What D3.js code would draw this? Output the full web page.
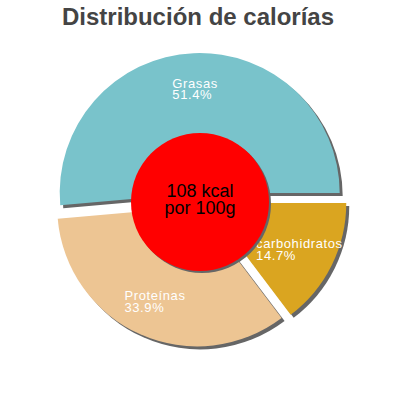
<!DOCTYPE html>
<html>
<head>
<meta charset="utf-8">
<script src="https://cdn.jsdelivr.net/npm/d3@7"></script>
<style>
  body { margin: 0; background: #fff; }
  text { font-family: "Liberation Sans", Arial, sans-serif; }
</style>
</head>
<body>
<div id="chart"></div>
<script>
// Data
const categories = ["carbohidratos", "Proteínas", "Grasas"];
const percents = [14.7, 33.9, 51.4];
const sliceColors = ["#daa520", "#edc593", "#79c3cb"];
const title = "Distribución de calorías";
const centerLines = ["108 kcal", "por 100g"];

const width = 400;
const height = 400;
const cx = 200, cy = 200;
const outerR = 140;
const explode = 7;
const labelR = 104;

const svg = d3.select("#chart").append("svg")
    .attr("width", width)
    .attr("height", height);

// Title
svg.append("text")
    .attr("x", 198)
    .attr("y", 25)
    .attr("text-anchor", "middle")
    .attr("font-size", 24)
    .attr("font-weight", "bold")
    .attr("fill", "#444")
    .text(title);

const slices = categories.map((c, i) => ({ name: c, value: percents[i], color: sliceColors[i] }));

const pie = d3.pie()
    .sort(null)
    .value(d => d.value)
    .startAngle(Math.PI / 2)
    .endAngle(Math.PI / 2 + 2 * Math.PI);

const arcs = pie(slices);
const arc = d3.arc().innerRadius(0).outerRadius(outerR);

const mid = d => (d.startAngle + d.endAngle) / 2;
const offset = (d, r) => [Math.sin(mid(d)) * r, -Math.cos(mid(d)) * r];

const g = svg.append("g")
    .attr("transform", `translate(${cx}, ${cy})`);

// Shadows first
g.append("g").selectAll("path")
    .data(arcs)
    .join("path")
    .attr("d", arc)
    .attr("fill", "#666")
    .attr("transform", d => {
        const [dx, dy] = offset(d, explode);
        return `translate(${dx + 3}, ${dy + 3})`;
    });

// Slices
g.append("g").selectAll("path")
    .data(arcs)
    .join("path")
    .attr("d", arc)
    .attr("fill", d => d.data.color)
    .attr("transform", d => {
        const [dx, dy] = offset(d, explode);
        return `translate(${dx}, ${dy})`;
    });

// Labels: two left-aligned lines centred on a point along the mid angle
const labels = g.append("g").selectAll("g")
    .data(arcs)
    .join("g");

labels.each(function (d) {
    const [lx, ly] = offset(d, labelR + explode);
    const grp = d3.select(this);
    const t = grp.append("text")
        .attr("fill", "#fff")
        .attr("font-size", 13)
        .attr("letter-spacing", 0.6);
    t.append("tspan").attr("x", 0).attr("y", 0).text(d.data.name);
    t.append("tspan").attr("x", 0).attr("y", 11.5).text(d.data.value.toFixed(1) + "%");
    const bb = t.node().getBBox();
    grp.attr("transform", `translate(${lx - bb.width / 2}, ${ly - bb.y - bb.height / 2})`);
});

// Centre circle with its shadow
const centerY = 2;
const centerR = 69;
g.append("circle")
    .attr("cx", 2)
    .attr("cy", centerY + 2)
    .attr("r", centerR)
    .attr("fill", "#666");
g.append("circle")
    .attr("cx", 0)
    .attr("cy", centerY)
    .attr("r", centerR)
    .attr("fill", "#ff0000");

g.append("text")
    .attr("text-anchor", "middle")
    .attr("font-size", 18)
    .attr("fill", "#000")
    .selectAll("tspan")
    .data(centerLines)
    .join("tspan")
    .attr("x", 0)
    .attr("y", (d, i) => -3 + i * 17)
    .text(d => d);
</script>
</body>
</html>
